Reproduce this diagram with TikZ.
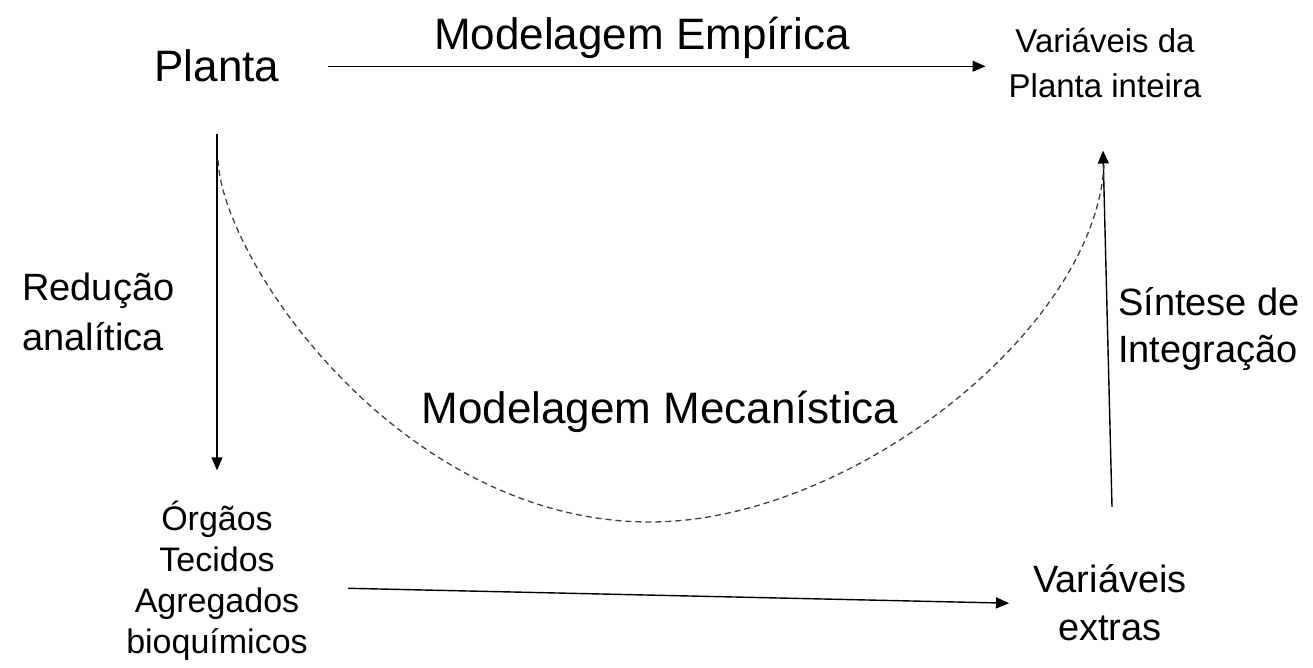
\documentclass[tikz,border=0pt]{standalone}
\usepackage{fontspec}
\setmainfont{Liberation Sans}
\usetikzlibrary{arrows.meta,calc}
\begin{document}
\begin{tikzpicture}[x=1pt,y=-1pt,
  lbl/.style={inner sep=0pt, text=black},
  arr/.style={line width=1.4pt, -{Triangle[length=13pt,width=11pt]}},
  dashcurve/.style={line width=1.3pt, draw=black!75, dash pattern=on 6pt off 4pt}]
\useasboundingbox (0,0) rectangle (1313,668);
\fill[white] (0,0) rectangle (1313,668);
% texts (multi-line nodes: base = baseline of last line)
\node[lbl, anchor=base, font=\fontsize{44}{53}\selectfont] (planta) at (217,82) {Planta};
\node[lbl, anchor=base, font=\fontsize{44}{53}\selectfont] (empirica) at (642,50) {Modelagem Empírica};
\node[lbl, anchor=base, align=center, font=\fontsize{33}{45}\selectfont] (varplanta) at (1105,98) {Variáveis da\\Planta inteira};
\node[lbl, anchor=base west, align=left, font=\fontsize{38}{50}\selectfont] (reducao) at (22,350) {Redução\\analítica};
\node[lbl, anchor=base, font=\fontsize{44}{53}\selectfont] (mecanistica) at (660,423) {Modelagem Mecanística};
\node[lbl, anchor=base west, align=left, font=\fontsize{38}{47}\selectfont] (sintese) at (1118,362) {Síntese de\\Integração};
\node[lbl, anchor=base, align=center, font=\fontsize{34}{41}\selectfont] (orgaos) at (217,653) {Órgãos\\Tecidos\\Agregados\\bioquímicos};
\node[lbl, anchor=base, align=center, font=\fontsize{38}{48}\selectfont] (varextras) at (1110,640) {Variáveis\\extras};
% connectors
\draw[arr] ($(planta.east)+(48,0)$) -- ($(planta.east -| varplanta.west)+(-23,0)$);
\draw[arr] ($(planta.south)+(0,51)$) -- ($(orgaos.north)+(0,-30)$);
\draw[arr] ($(varextras.north)+(2,-57)$) -- ($(varplanta.south)+(-2,52)$);
\draw[arr] ($(orgaos.east)+(40,8)$) -- ($(varextras.west)+(-24,1)$);
% dashed curve
\draw[dashcurve] (218,160) .. controls (222,260) and (400,522) .. (650,522)
  .. controls (850,522) and (1095,330) .. (1104,165);
\end{tikzpicture}
\end{document}
